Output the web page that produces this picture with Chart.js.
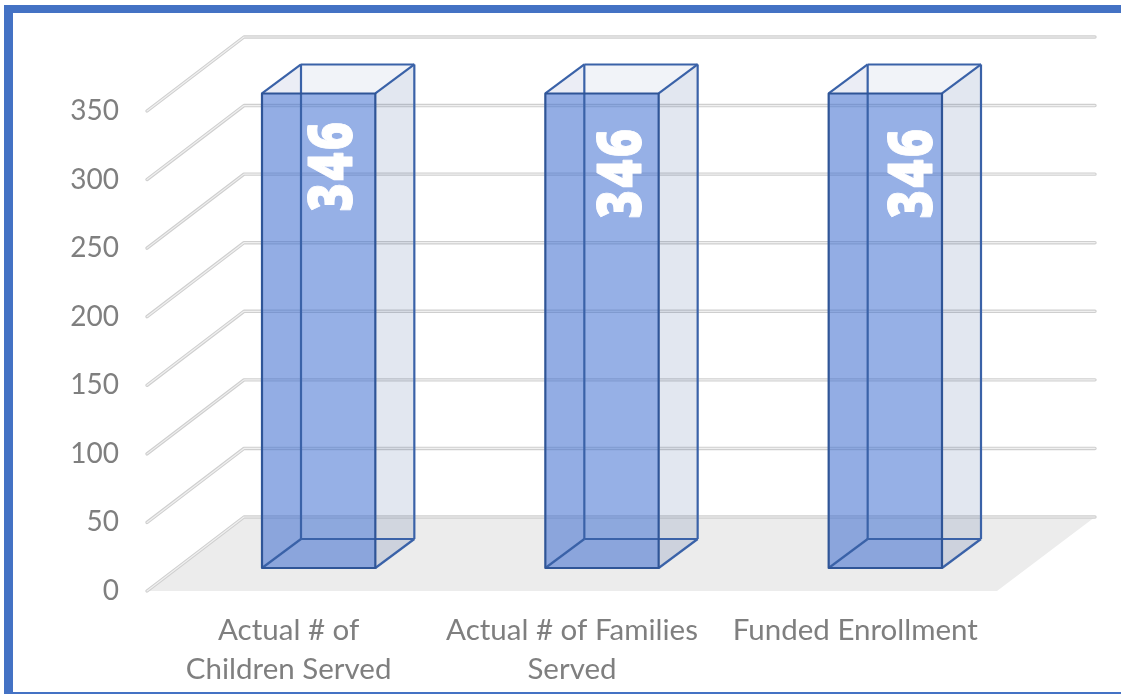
<!DOCTYPE html>
<html>
<head>
<meta charset="utf-8">
<title>Enrollment</title>
<script src="https://cdn.jsdelivr.net/npm/chart.js@4"></script>
<style>
  html, body { margin: 0; padding: 0; background: #fff; overflow: hidden; }
  #wrap { position: relative; width: 1121px; height: 694px; }
  #frame {
    position: absolute; left: 4px; top: 5px; right: 0; bottom: 0;
    border-top: 8px solid #4472c4; border-left: 9px solid #4472c4; border-bottom: 2px solid #4472c4;
    pointer-events: none;
  }
</style>
</head>
<body>
<div id="wrap">
  <canvas id="enrollChart" width="1121" height="694"></canvas>
  <div id="frame"></div>
</div>
<script>
const categories = [["Actual # of", "Children Served"], ["Actual # of Families", "Served"], "Funded Enrollment"];
const enrollment = [346, 346, 346];
const tickStep = 50;
const tickMax = 350;

// how far back the 3d floor goes, and where the boxes sit in it
const wallDx = 97, wallDy = -74;
const boxNearDx = 30, boxNearDy = -23;
const boxDx = 39, boxDy = -29;
const labelNudge = [[16, 72], [21, 79], [29, 79]];

const perspective = {
  id: "perspective",
  beforeDatasetsDraw(chart) {
    const { ctx, chartArea: a, scales: { y } } = chart;
    ctx.save();
    ctx.beginPath();
    ctx.moveTo(a.left, a.bottom);
    ctx.lineTo(a.right, a.bottom);
    ctx.lineTo(a.right + wallDx + 1, a.bottom + wallDy);
    ctx.lineTo(a.left + wallDx, a.bottom + wallDy);
    ctx.closePath();
    ctx.fillStyle = "#ececec";
    ctx.fill();
    ctx.lineJoin = "round";
    ctx.lineCap = "round";
    y.ticks.forEach((t) => {
      const py = y.getPixelForValue(t.value);
      ctx.beginPath();
      ctx.moveTo(a.left, py);
      ctx.lineTo(a.left + wallDx, py + wallDy);
      ctx.lineTo(a.right + wallDx + 1, py + wallDy);
      ctx.strokeStyle = "#cfcfcf";
      ctx.lineWidth = 3.4;
      ctx.stroke();
      ctx.strokeStyle = "#f0f0f0";
      ctx.lineWidth = 1.2;
      ctx.stroke();
    });
    ctx.restore();
  },
  afterDatasetsDraw(chart) {
    const { ctx } = chart;
    const bars = chart.getDatasetMeta(0).data;
    ctx.save();
    ctx.lineJoin = "round";
    bars.forEach((bar, i) => {
      const l = bar.x - bar.width / 2 + boxNearDx;
      const r = bar.x + bar.width / 2 + boxNearDx;
      const t = bar.y + boxNearDy;
      const b = bar.base + boxNearDy;
      const face = (pts, fill) => {
        ctx.beginPath();
        pts.forEach((p, n) => (n ? ctx.lineTo(p[0], p[1]) : ctx.moveTo(p[0], p[1])));
        ctx.closePath();
        ctx.fillStyle = fill;
        ctx.fill();
      };
      const edge = (x1, y1, x2, y2) => {
        ctx.beginPath();
        ctx.moveTo(x1, y1);
        ctx.lineTo(x2, y2);
        ctx.stroke();
      };
      face([[l + boxDx, t + boxDy], [r + boxDx, t + boxDy], [r + boxDx, b + boxDy], [l + boxDx, b + boxDy]], "rgba(50,80,150,0.02)");
      face([[l, t], [l + boxDx, t + boxDy], [l + boxDx, b + boxDy], [l, b]], "rgba(50,80,150,0.05)");
      face([[l, b], [r, b], [r + boxDx, b + boxDy], [l + boxDx, b + boxDy]], "rgba(50,80,150,0.05)");
      face([[r, t], [r + boxDx, t + boxDy], [r + boxDx, b + boxDy], [r, b]], "rgba(50,80,150,0.12)");
      face([[l, t], [r, t], [r + boxDx, t + boxDy], [l + boxDx, t + boxDy]], "rgba(50,80,150,0.05)");
      face([[l, t], [r, t], [r, b], [l, b]], "rgba(60,110,210,0.53)");

      ctx.strokeStyle = "#3a62a8";
      ctx.lineWidth = 2.2;
      edge(l + boxDx, t + boxDy, l + boxDx, b + boxDy);
      edge(l + boxDx, b + boxDy, r + boxDx, b + boxDy);
      edge(l + boxDx, t + boxDy, r + boxDx, t + boxDy);
      edge(r + boxDx, t + boxDy, r + boxDx, b + boxDy);
      edge(l, t, l + boxDx, t + boxDy);
      edge(l, b, l + boxDx, b + boxDy);
      edge(r, b, r + boxDx, b + boxDy);
      edge(r, t, r + boxDx, t + boxDy);
      ctx.strokeStyle = "#2f5597";
      ctx.strokeRect(l, t, r - l, b - t);

      ctx.save();
      ctx.translate((l + r) / 2 + labelNudge[i][0], t + labelNudge[i][1]);
      ctx.rotate(-Math.PI / 2);
      ctx.scale(0.78, 1);
      ctx.font = "800 62px 'Open Sans'";
      ctx.letterSpacing = "3px";
      ctx.fillStyle = "#fff";
      ctx.strokeStyle = "#fff";
      ctx.lineWidth = 1;
      ctx.textAlign = "center";
      ctx.textBaseline = "middle";
      ctx.fillText(String(enrollment[i]), 0, 0);
      ctx.strokeText(String(enrollment[i]), 0, 0);
      ctx.restore();
    });
    ctx.restore();
  },
};

new Chart(document.getElementById("enrollChart").getContext("2d"), {
  type: "bar",
  data: {
    labels: categories,
    datasets: [
      {
        data: enrollment,
        backgroundColor: "rgba(0,0,0,0)",
        barPercentage: 0.4,
        categoryPercentage: 1,
      },
    ],
  },
  options: {
    responsive: false,
    animation: false,
    layout: { padding: { left: 0, top: 111, right: 124, bottom: 0 } },
    plugins: { legend: { display: false }, tooltip: { enabled: false } },
    scales: {
      y: {
        min: 0,
        max: tickMax,
        ticks: {
          stepSize: tickStep,
          padding: 28,
          color: "#7f7f7f",
          font: { family: "Lato", size: 28 },
        },
        grid: { display: false, drawTicks: false },
        border: { display: false },
        afterFit: (s) => { s.width = 147; },
      },
      x: {
        ticks: {
          padding: 20,
          color: "#7f7f7f",
          maxRotation: 0,
          font: { family: "Lato", size: 29.5, lineHeight: 1.33 },
        },
        grid: { display: false, drawTicks: false },
        border: { display: false },
        afterFit: (s) => { s.height = 103; },
      },
    },
  },
  plugins: [perspective],
});
</script>
</body>
</html>
